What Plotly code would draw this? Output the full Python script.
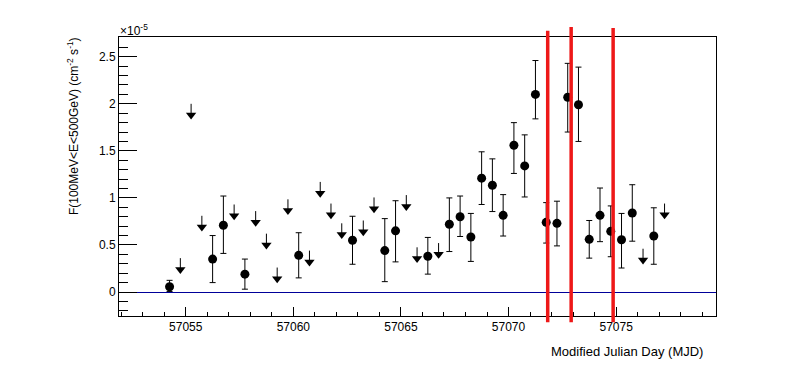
import plotly.graph_objects as go

# flux values in units of 1e-5 ph cm^-2 s^-1
det_mjd = [57054.25, 57056.25, 57056.75, 57057.75, 57060.25, 57062.75, 57064.25,
           57064.75, 57066.25, 57067.25, 57067.75, 57068.25, 57068.75, 57069.25,
           57069.75, 57070.25, 57070.75, 57071.25, 57071.75, 57072.25, 57072.75,
           57073.25, 57073.75, 57074.25, 57074.75, 57075.25, 57075.75, 57076.75]
det_flux = [0.056, 0.35, 0.71, 0.19, 0.39, 0.55, 0.44,
            0.65, 0.38, 0.72, 0.80, 0.585, 1.21, 1.135,
            0.815, 1.56, 1.34, 2.10, 0.74, 0.73, 2.07,
            1.99, 0.56, 0.815, 0.645, 0.555, 0.84, 0.595]
det_err_hi = [0.068, 0.25, 0.31, 0.16, 0.24, 0.255, 0.34,
              0.32, 0.20, 0.28, 0.22, 0.25, 0.28, 0.28,
              0.22, 0.24, 0.33, 0.36, 0.21, 0.235, 0.36,
              0.40, 0.20, 0.29, 0.27, 0.28, 0.30, 0.30]
det_err_lo = [0.05, 0.25, 0.30, 0.16, 0.24, 0.255, 0.33,
              0.33, 0.19, 0.29, 0.21, 0.26, 0.28, 0.28,
              0.22, 0.30, 0.33, 0.26, 0.22, 0.24, 0.37,
              0.39, 0.20, 0.28, 0.27, 0.30, 0.30, 0.30]

ul_mjd = [57054.75, 57055.25, 57055.75, 57057.25, 57058.25, 57058.75, 57059.25,
          57059.75, 57060.75, 57061.25, 57061.75, 57062.25, 57063.25, 57063.75,
          57065.25, 57065.75, 57066.75, 57076.25, 57077.25]
ul_flux = [0.24, 1.88, 0.69, 0.81, 0.74, 0.50, 0.14,
           0.865, 0.32, 1.05, 0.82, 0.61, 0.64, 0.885,
           0.91, 0.355, 0.40, 0.34, 0.82]

flare_mjd = [57071.82, 57072.91, 57074.86]

x_range = [57051.90, 57079.64]
y_range = [-0.255, 2.71]

FONT = 'Liberation Sans, Arial, sans-serif'
ARROW_STEM = 0.12  # Länge des UL-Pfeilschafts

fig = go.Figure()

fig.add_trace(go.Scatter(
    x=det_mjd, y=det_flux, mode='markers',
    marker=dict(symbol='circle', size=9, color='black'),
    error_y=dict(type='data', symmetric=False, array=det_err_hi,
                 arrayminus=det_err_lo, width=3, thickness=1, color='black'),
    showlegend=False,
))

fig.add_trace(go.Scatter(
    x=ul_mjd, y=ul_flux, mode='markers',
    marker=dict(symbol='triangle-down', size=9, color='black'),
    error_y=dict(type='data', symmetric=False, array=[ARROW_STEM] * len(ul_mjd),
                 arrayminus=[0] * len(ul_mjd), width=0, thickness=1, color='black'),
    showlegend=False,
))

# rote Markierungen (ragen über den Rahmen hinaus)
tops = [1.022, 1.036, 1.032]
for m, t in zip(flare_mjd, tops):
    fig.add_shape(type='line', xref='x', yref='paper', x0=m, x1=m, y0=-0.022, y1=t,
                  line=dict(color='#ee1818', width=3.5), layer='above')

fig.update_xaxes(
    range=x_range, showgrid=False, zeroline=False,
    showline=True, linecolor='black', linewidth=1, mirror=True,
    tickmode='linear', tick0=57055, dtick=5, tickformat='d',
    ticks='inside', ticklen=9, tickwidth=1, tickcolor='black',
    minor=dict(tick0=57055, dtick=1, ticks='inside', ticklen=4.5, tickcolor='black'),
    tickfont=dict(family=FONT, size=12, color='black'),
)
fig.update_yaxes(
    range=y_range, showgrid=False,
    zeroline=True, zerolinecolor='#000099', zerolinewidth=1,
    showline=True, linecolor='black', linewidth=1, mirror=True,
    tickmode='linear', tick0=0, dtick=0.5, ticks='inside', ticklen=18,
    tickwidth=1, tickcolor='black',
    minor=dict(tick0=0, dtick=0.1, ticks='inside', ticklen=9, tickcolor='black'),
    tickfont=dict(family=FONT, size=12, color='black'),
)

fig.add_annotation(
    text='F(100MeV<E<500GeV) (cm<sup>-2</sup> s<sup>-1</sup>)',
    xref='paper', yref='paper', x=-0.077, y=1.007, xanchor='center', yanchor='top',
    textangle=-90, showarrow=False, font=dict(family=FONT, size=12, color='black'),
)
fig.add_annotation(
    text='×10<sup>-5</sup>', xref='paper', yref='paper', x=-0.002, y=0.99,
    xanchor='left', yanchor='bottom', showarrow=False,
    font=dict(family=FONT, size=12, color='black'),
)
fig.add_annotation(
    text='Modified Julian Day (MJD)', xref='paper', yref='paper', x=0.982, y=-0.129,
    xanchor='right', yanchor='middle', showarrow=False,
    font=dict(family=FONT, size=13, color='black'),
)

fig.update_layout(
    width=796, height=372,
    margin=dict(l=119, r=80, t=37, b=56),
    paper_bgcolor='white', plot_bgcolor='white',
    showlegend=False,
)

fig.write_html('out.html', config={'displayModeBar': False},
               post_script="document.body.style.margin='0';")
